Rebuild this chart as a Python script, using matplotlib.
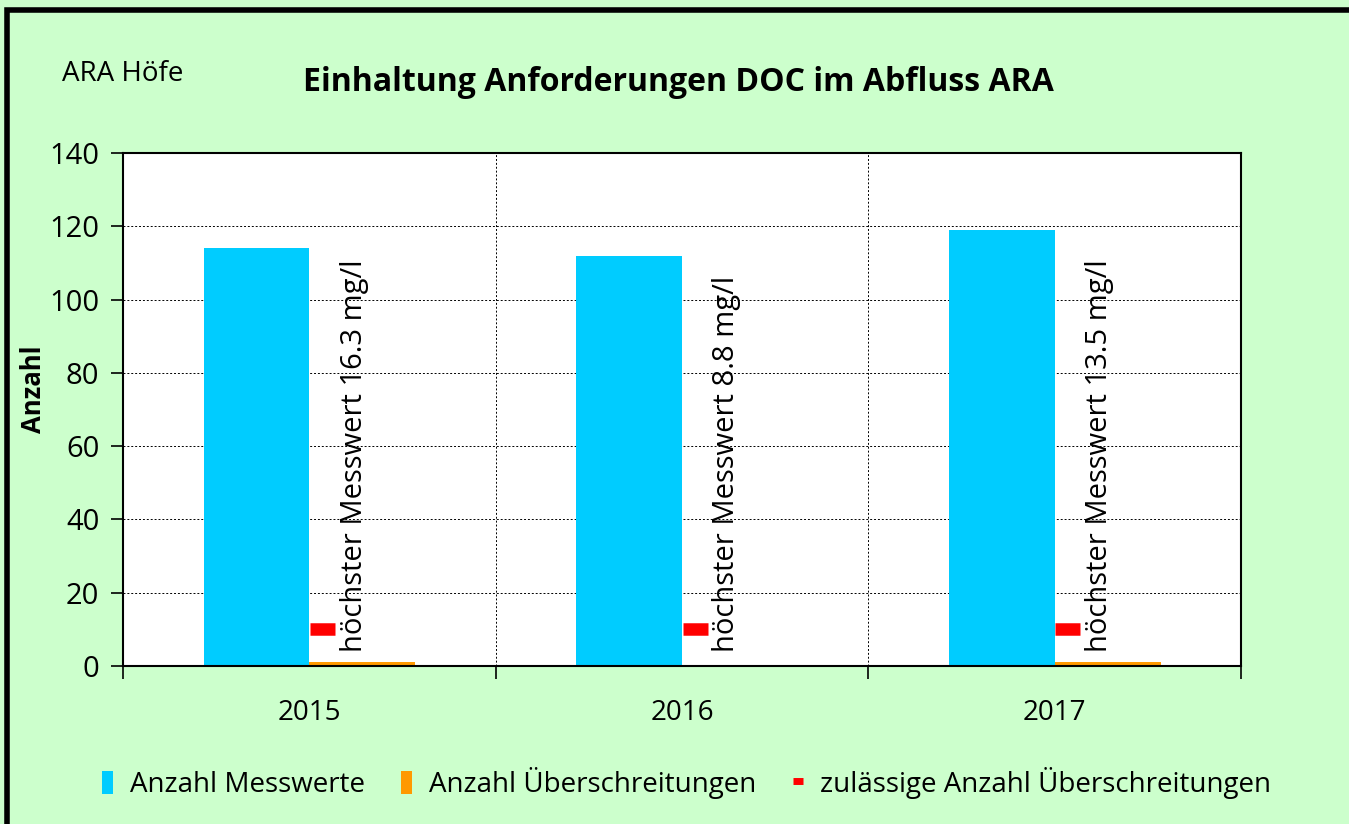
import numpy as np
import matplotlib.pyplot as plt
from matplotlib.patches import Patch, Rectangle
from matplotlib.lines import Line2D

plt.rcParams['font.family'] = ['Open Sans', 'DejaVu Sans']

# data
years = ['2015', '2016', '2017']
messwerte = [114, 112, 119]
ueberschreitungen = [1, 0, 1]
zulaessig = [10, 10, 10]
max_wert = ['16.3', '8.8', '13.5']

c_blue = '#00CCFF'
c_orange = '#FF9900'
c_red = '#FF0000'
c_bg = '#CCFFCC'

fig = plt.figure(figsize=(13.49, 8.24), dpi=100, facecolor=c_bg)
ax = fig.add_axes([0.0912, 0.1917, 0.8288, 0.6226])
ax.set_facecolor('white')

x = np.arange(len(years))
w = 0.284
ax.bar(x - w / 2, messwerte, w, color=c_blue, zorder=3)
ax.bar(x + w / 2, ueberschreitungen, w, color=c_orange, zorder=3)
ax.plot(x + 0.034, zulaessig, linestyle='none', marker='_', markersize=18,
        markeredgewidth=9, color=c_red, zorder=4)

for xi, mw in zip(x, max_wert):
    ax.text(xi + 0.12, 3.8, f'höchster Messwert {mw} mg/l', rotation=90,
            ha='center', va='bottom', fontsize=21, zorder=5)

ax.set_xlim(-0.5, 2.5)
ax.set_ylim(0, 140)
ax.set_yticks(np.arange(0, 141, 20))
ax.set_xticks([-0.5, 0.5, 1.5, 2.5])
ax.set_xticklabels([])
ax.set_xticks(x, minor=True)
ax.set_xticklabels(years, minor=True)
ax.tick_params(axis='x', which='minor', length=0, pad=24, labelsize=20)
ax.tick_params(axis='x', which='major', length=9, width=1.2, direction='out')
ax.tick_params(axis='y', length=9, width=1.2, direction='out', pad=8, labelsize=21)

ax.grid(True, which='major', color='black', linestyle=(0, (2, 2)), linewidth=0.7, zorder=0)
for s in ax.spines.values():
    s.set_linewidth(1.5)
    s.set_color('black')
    s.set_zorder(6)

ax.set_ylabel('Anzahl', fontsize=18.5, fontweight='bold')
ax.yaxis.set_label_coords(-0.068, 0.54)

fig.text(0.046, 0.91, 'ARA Höfe', fontsize=20, ha='left', va='center')
fig.text(0.503, 0.9, 'Einhaltung Anforderungen DOC im Abfluss ARA', fontsize=23,
         fontweight='bold', ha='center', va='center')

# outer frame of the chart (only left and top edges visible in the crop)
fig.patches.append(Rectangle((0.005, -0.1), 1.2, 1.088, transform=fig.transFigure,
                             fill=False, edgecolor='black', linewidth=4))

handles = [Patch(facecolor=c_blue), Patch(facecolor=c_orange),
           Line2D([], [], linestyle='none', marker='_', markersize=7,
                  markeredgewidth=5, color=c_red)]
labels = ['Anzahl Messwerte', 'Anzahl Überschreitungen', 'zulässige Anzahl Überschreitungen']
fig.legend(handles, labels, loc='center', bbox_to_anchor=(0.509, 0.05), ncol=3,
           frameon=False, fontsize=20, handlelength=0.4, handleheight=0.9,
           handletextpad=0.6, columnspacing=1.3)

fig.savefig('out.png', dpi=100, facecolor=c_bg)
